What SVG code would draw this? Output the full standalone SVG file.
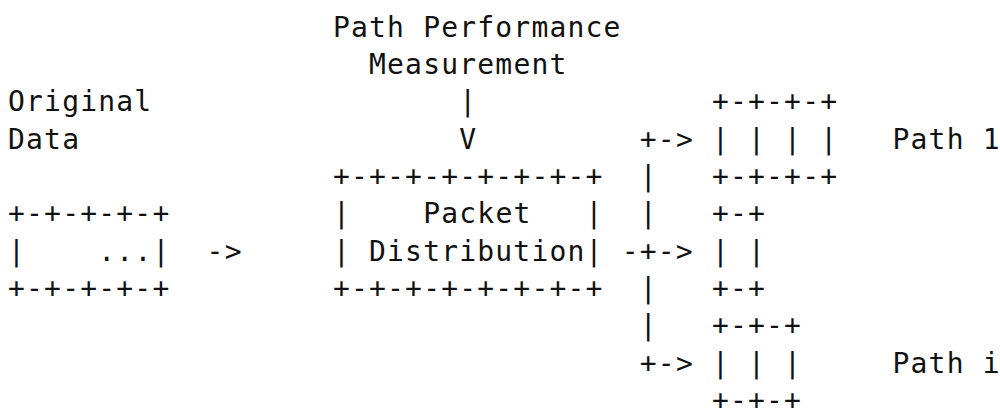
<svg xmlns="http://www.w3.org/2000/svg" width="1000" height="411" viewBox="0 0 1000 411">
  <style>
    text { font-family: "DejaVu Sans Mono", "Liberation Mono", monospace; font-size: 28px; letter-spacing: 1.19px; fill: #111; white-space: pre; }
  </style>
  <rect width="1000" height="411" fill="#fff"/>
  <!-- character grid: column c at x = 8 + c*18.05, row r at baseline y = 36.5 + r*37.35 -->
  <g id="measurement">
    <text x="332.9" y="36.5">Path Performance</text>
    <text x="369" y="73.85">Measurement</text>
  </g>
  <g id="original-data">
    <text x="8" y="111.2">Original</text>
    <text x="8" y="148.55">Data</text>
    <text x="8" y="223.25">+-+-+-+-+</text>
    <text x="8" y="260.6">|</text>
    <text x="98.3" y="260.6">...|</text>
    <text x="8" y="297.95">+-+-+-+-+</text>
  </g>
  <g id="packet-distribution">
    <text x="332.9" y="185.9">+-+-+-+-+-+-+-+</text>
    <text x="332.9" y="223.25">|</text>
    <text x="423.2" y="223.25">Packet</text>
    <text x="585.6" y="223.25">|</text>
    <text x="332.9" y="260.6">| Distribution|</text>
    <text x="332.9" y="297.95">+-+-+-+-+-+-+-+</text>
  </g>
  <g id="path-1">
    <text x="711.9" y="111.2">+-+-+-+</text>
    <text x="711.9" y="148.55">| | | |</text>
    <text x="711.9" y="185.9">+-+-+-+</text>
    <text x="892.5" y="148.55">Path 1</text>
  </g>
  <g id="path-mid">
    <text x="711.9" y="223.25">+-+</text>
    <text x="711.9" y="260.6">| |</text>
    <text x="711.9" y="297.95">+-+</text>
  </g>
  <g id="path-i">
    <text x="711.9" y="335.3">+-+-+</text>
    <text x="711.9" y="372.65">| | |</text>
    <text x="711.9" y="410">+-+-+</text>
    <text x="892.5" y="372.65">Path i</text>
  </g>
  <g id="connectors">
    <text x="459.3" y="111.2">|</text>
    <text x="459.3" y="148.55">V</text>
    <text x="206.6" y="260.6">-&gt;</text>
    <text x="639.8" y="148.55">+-&gt;</text>
    <text x="639.8" y="185.9">|</text>
    <text x="639.8" y="223.25">|</text>
    <text x="621.7" y="260.6">-+-&gt;</text>
    <text x="639.8" y="297.95">|</text>
    <text x="639.8" y="335.3">|</text>
    <text x="639.8" y="372.65">+-&gt;</text>
  </g>
</svg>
